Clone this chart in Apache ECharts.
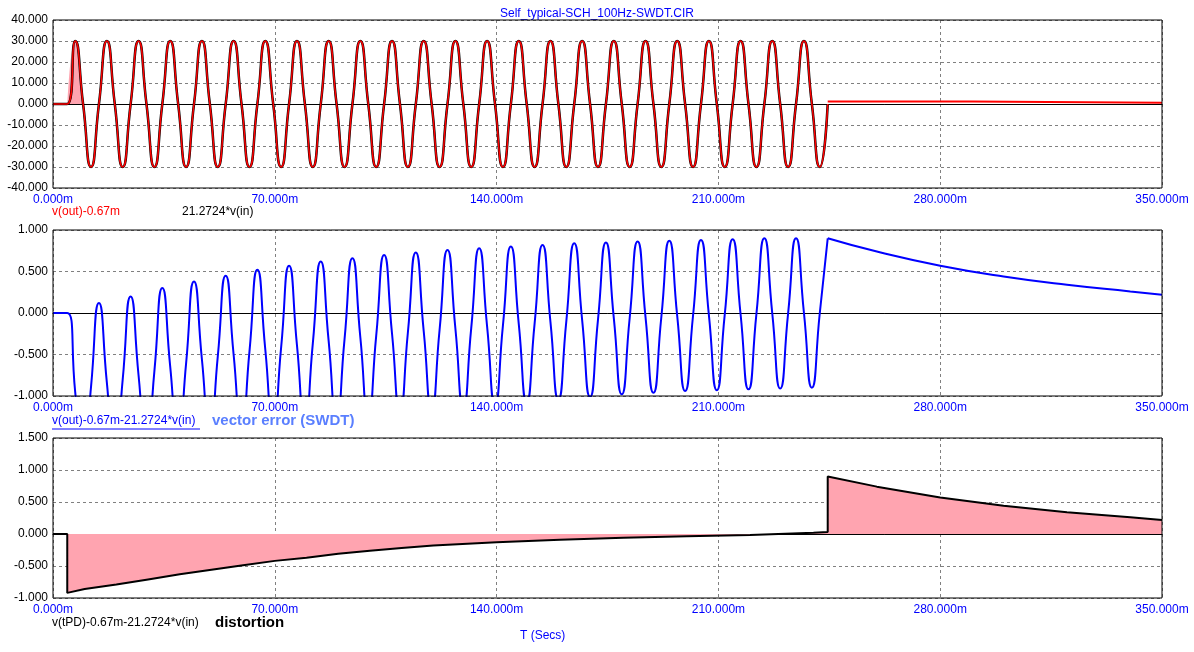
<!DOCTYPE html>
<html>
<head>
<meta charset="utf-8">
<script src="https://cdn.jsdelivr.net/npm/echarts@6/dist/echarts.min.js"></script>
<style>
html,body{margin:0;padding:0;background:#fff}
#chart{width:1194px;height:652px}
</style>
</head>
<body>
<div id="chart"></div>
<script>
// time in ms
var xTicks = [0, 70, 140, 210, 280, 350];

// top panel: cycle extremes of v(out) and 21.2724*v(in)
var topStart = 4.5;
var topPeaks = [30,30,30,30,30,30,30,30,30,30,30,30,30,30,30,30,30,30,30,30,30,30,30,30];
var topTroughs = [-30,-30,-30,-30,-30,-30,-30,-30,-30,-30,-30,-30,-30,-30,-30,-30,-30,-30,-30,-30,-30,-30,-30,-30];
var topEnd = 244.5;
var topTail = [[244.5, 1.2], [290, 1.2], [290, 0.6], [350, 0.6]];

// middle panel: vector error extremes
var midPeaks = [0.12,0.2,0.3,0.38,0.45,0.52,0.57,0.62,0.66,0.7,0.73,0.76,0.78,0.8,0.82,0.84,0.85,0.86,0.87,0.88,0.89,0.9,0.9];
var midTroughs = [-1.9,-1.8,-1.7,-1.6,-1.5,-1.45,-1.4,-1.35,-1.3,-1.25,-1.2,-1.17,-1.14,-1.1,-1.07,-1.04,-1.01,-0.98,-0.96,-0.94,-0.93,-0.92,-0.91,-0.9];
var decayTail = [[244.5,0.9],[260,0.74],[280,0.57],[300,0.44],[320,0.34],[340,0.26],[350,0.22]];

// bottom panel: distortion
var distortion = [[0,0],[4.5,0],[4.5,-0.92],[10,-0.86],[20,-0.79],[30,-0.71],[40,-0.63],[50,-0.56],[60,-0.49],
  [70,-0.42],[80,-0.37],[90,-0.31],[100,-0.26],[110,-0.22],[120,-0.18],[140,-0.13],[160,-0.09],[180,-0.06],
  [200,-0.035],[220,-0.015],[240,0.02],[244.5,0.03],[244.5,0.9]];

function topWave() {
  var d = [[0, 0], [topStart, 0]];
  for (var k = 0; k < topPeaks.length; k++) {
    var t0 = topStart + 10 * k;
    d.push([t0 + 2.5, topPeaks[k]]);
    d.push([t0 + 5, 0]);
    d.push([t0 + 7.5, topTroughs[k]]);
    d.push([t0 + 10, 0]);
  }
  return d;
}
function midWave() {
  var ext = [];
  for (var k = 0; k < midTroughs.length; k++) {
    ext.push([9.5 + 10 * k, midTroughs[k]]);
    if (k < midPeaks.length) ext.push([14.5 + 10 * k, midPeaks[k]]);
  }
  ext.push(decayTail[0]);
  var d = [[0, 0], [4.5, 0], [7, midTroughs[0] / 2]];
  for (var i = 0; i < ext.length; i++) {
    d.push(ext[i]);
    if (i + 1 < ext.length) d.push([(ext[i][0] + ext[i + 1][0]) / 2, (ext[i][1] + ext[i + 1][1]) / 2]);
  }
  return d;
}

var grids = [
  {left: 53, right: 32, top: 20, height: 168},
  {left: 53, right: 32, top: 230, height: 166},
  {left: 53, right: 32, top: 438, height: 160}
];
var font = 'Liberation Sans';
function xAx(i) {
  return {type: 'value', gridIndex: i, min: 0, max: 350, interval: 70,
    axisLine: {onZero: true, lineStyle: {color: '#000'}}, axisTick: {show: false},
    axisLabel: {color: '#0000ff', fontFamily: font, fontSize: 12, margin: 6,
      formatter: function (v) { return v.toFixed(3) + 'm'; }},
    splitLine: {lineStyle: {color: '#808080', type: [3, 3]}}};
}
function yAx(i, mn, mx, iv) {
  return {type: 'value', gridIndex: i, min: mn, max: mx, interval: iv,
    axisLine: {show: false}, axisTick: {show: false},
    axisLabel: {color: '#000', fontFamily: font, fontSize: 12, margin: 5,
      formatter: function (v) { return v.toFixed(3); }},
    splitLine: {lineStyle: {color: '#808080', type: [3, 3]}}};
}
var frames = grids.map(function (g, i) {
  return {type: 'rect', shape: {x: 53, y: g.top, width: 1109, height: g.height},
    style: {fill: 'none', stroke: '#000', lineWidth: 1}, z: 100};
});
function txt(x, y, s, c, bold, size) {
  return {type: 'text', left: x, top: y, z: 101,
    style: {text: s, fill: c, font: (bold ? 'bold ' : '') + (size || 12) + 'px "' + font + '"'}};
}

var option = {
  animation: false,
  title: {text: 'Self_typical-SCH_100Hz-SWDT.CIR', left: 'center', top: 3,
    textStyle: {color: '#0000ff', fontFamily: font, fontSize: 12, fontWeight: 'normal'}},
  grid: grids,
  xAxis: [xAx(0), xAx(1), xAx(2)],
  yAxis: [yAx(0, -40, 40, 10), yAx(1, -1, 1, 0.5), yAx(2, -1, 1.5, 0.5)],
  graphic: frames.concat([
    txt(52, 206, 'v(out)-0.67m', '#ff0000'),
    txt(182, 206, '21.2724*v(in)', '#000'),
    txt(52, 415, 'v(out)-0.67m-21.2724*v(in)', '#0000ff'),
    {type: 'line', shape: {x1: 52, y1: 429, x2: 200, y2: 429}, style: {stroke: '#0000ff', lineWidth: 1}},
    txt(212, 413, 'vector error (SWDT)', '#5a7fff', true, 15),
    txt(52, 617, 'v(tPD)-0.67m-21.2724*v(in)', '#000'),
    txt(215, 615, 'distortion', '#000', true, 15),
    txt(520, 630, 'T (Secs)', '#0000ff')
  ]),
  series: [
    {type: 'line', xAxisIndex: 0, yAxisIndex: 0, showSymbol: false, silent: true,
      data: [[topStart, 0], [topStart + 2.5, topPeaks[0]], [topStart + 5, 0]], smooth: 0.6,
      lineStyle: {width: 0}, areaStyle: {color: '#ffa4b0', opacity: 1}},
    {type: 'line', xAxisIndex: 0, yAxisIndex: 0, showSymbol: false, data: topWave(), smooth: 0.6,
      lineStyle: {color: '#000', width: 2.5}},
    {type: 'line', xAxisIndex: 0, yAxisIndex: 0, showSymbol: false, data: topWave(), smooth: 0.6,
      lineStyle: {color: '#ff0000', width: 1.5}},
    {type: 'line', xAxisIndex: 0, yAxisIndex: 0, showSymbol: false, data: topTail,
      lineStyle: {color: '#ff0000', width: 2}},
    {type: 'line', xAxisIndex: 1, yAxisIndex: 1, showSymbol: false, data: midWave(), smooth: 0.6,
      lineStyle: {color: '#0000ff', width: 2}},
    {type: 'line', xAxisIndex: 1, yAxisIndex: 1, showSymbol: false, data: decayTail, smooth: true,
      lineStyle: {color: '#0000ff', width: 2}},
    {type: 'line', xAxisIndex: 2, yAxisIndex: 2, showSymbol: false, data: distortion.concat(decayTail.slice(1)),
      lineStyle: {color: '#000', width: 2}, areaStyle: {color: '#ffa4b0', opacity: 1}}
  ]
};
var myChart = echarts.init(document.getElementById('chart'));
myChart.setOption(option);
</script>
</body>
</html>
